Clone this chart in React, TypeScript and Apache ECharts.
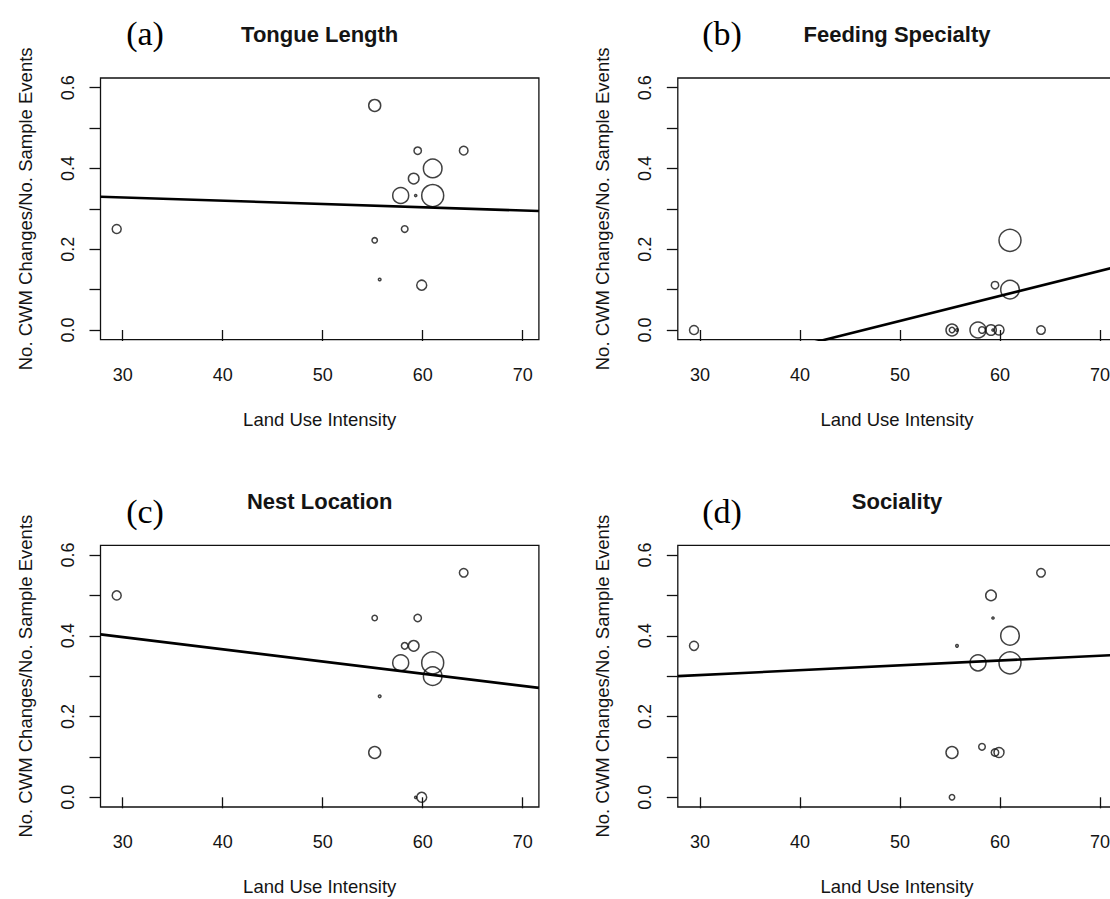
import React, { useEffect, useRef } from "react";
import * as echarts from "echarts";

// Land use intensity of each sampled site (shared by all four panels)
const siteX = [29.4, 55.2, 55.2, 55.7, 57.8, 58.2, 59.1, 59.3, 59.5, 59.9, 61.0, 61.0, 64.1];
// Relative weight of each site (bubble size)
const siteWeight = [4.5, 6, 2.7, 1.3, 8, 3.3, 5.3, 1.1, 3.7, 5, 9.3, 11, 4.3];

// No. CWM changes / No. sample events, per trait
const tongueLength = [0.25, 0.556, 0.222, 0.125, 0.333, 0.25, 0.375, 0.333, 0.444, 0.111, 0.4, 0.333, 0.444];
const feedingSpecialty = [0, 0, 0, 0, 0, 0, 0, 0, 0.111, 0, 0.1, 0.222, 0];
const nestLocation = [0.5, 0.111, 0.444, 0.25, 0.333, 0.375, 0.375, 0, 0.444, 0, 0.3, 0.333, 0.556];
const sociality = [0.375, 0.111, 0, 0.375, 0.333, 0.125, 0.5, 0.444, 0.111, 0.111, 0.4, 0.333, 0.556];

// Fitted regression lines: [intercept, slope]
const fitTongue = [0.3524, -0.000807];
const fitFeeding = [-0.2875, 0.0062];
const fitNest = [0.4873, -0.00302];
const fitSociality = [0.2667, 0.0012];

const panelTitles = ["Tongue Length", "Feeding Specialty", "Nest Location", "Sociality"];
const panelTags = ["(a)", "(b)", "(c)", "(d)"];

// Axis ticks and labels
const xTicks = [30, 40, 50, 60, 70];
const yTicks = [0, 0.1, 0.2, 0.3, 0.4, 0.5, 0.6];
const yLabels = [0, 0.2, 0.4, 0.6];
const xMin = 27.78;
const xMax = 71.62;
const yMin = -0.024;
const yMax = 0.624;

const xName = "Land Use Intensity";
const yName = "No. CWM Changes/No. Sample Events";

const SANS = '"Liberation Sans", Arial, Helvetica, sans-serif';
const SERIF = '"Liberation Serif", "Times New Roman", serif';
const INK = "#141414";

export default function App() {
  const ref = useRef<HTMLDivElement>(null);

  useEffect(() => {
    if (!ref.current) return;
    const chart = echarts.init(ref.current, null, { renderer: "svg" });

    const values = [tongueLength, feedingSpecialty, nestLocation, sociality];
    const fits = [fitTongue, fitFeeding, fitNest, fitSociality];

    const lefts = [100.5, 677.8, 100.5, 677.8];
    const tops = [78, 78, 545.3, 545.3];
    const W = 438.4;
    const H = 261.7;

    const grids = lefts.map((l, i) => ({
      left: l,
      top: tops[i],
      width: W,
      height: H,
      show: true,
      borderColor: "#111",
      borderWidth: 1.3,
      backgroundColor: "#fff",
      containLabel: false,
      outerBoundsMode: "none",
    }));

    const xAxes = lefts.map((_, i) => ({
      type: "value",
      gridIndex: i,
      min: xMin,
      max: xMax,
      axisLine: { show: false },
      splitLine: { show: false },
      axisTick: {
        show: true,
        length: 11,
        customValues: xTicks,
        lineStyle: { color: "#111", width: 1.3 },
      },
      axisLabel: {
        customValues: xTicks,
        margin: 26,
        fontSize: 18,
        fontFamily: SANS,
        color: INK,
      },
      name: xName,
      nameLocation: "middle",
      nameGap: 70,
      nameTextStyle: { fontSize: 18.5, fontFamily: SANS, color: INK },
    }));

    const yAxes = lefts.map((_, i) => ({
      type: "value",
      gridIndex: i,
      min: yMin,
      max: yMax,
      axisLine: { show: false },
      splitLine: { show: false },
      axisTick: {
        show: true,
        length: 11,
        customValues: yTicks,
        lineStyle: { color: "#111", width: 1.3 },
      },
      axisLabel: {
        customValues: yLabels,
        rotate: 90,
        margin: 24,
        fontSize: 18,
        fontFamily: SANS,
        color: INK,
        formatter: (v: number) => v.toFixed(1),
      },
      name: yName,
      nameLocation: "middle",
      nameGap: 66,
      nameTextStyle: { fontSize: 18.5, fontFamily: SANS, color: INK },
    }));

    const series: any[] = [];
    values.forEach((vals, i) => {
      series.push({
        type: "scatter",
        xAxisIndex: i,
        yAxisIndex: i,
        data: vals.map((y, k) => [siteX[k], y, siteWeight[k]]),
        symbol: "circle",
        symbolSize: (d: number[]) => d[2] * 2,
        itemStyle: { color: "rgba(255,255,255,0)", borderColor: "#111", borderWidth: 1.5 },
        silent: true,
        z: 3,
      });
      const [a, b] = fits[i];
      series.push({
        type: "line",
        xAxisIndex: i,
        yAxisIndex: i,
        data: [
          [xMin, a + b * xMin],
          [xMax, a + b * xMax],
        ],
        showSymbol: false,
        symbol: "none",
        clip: true,
        lineStyle: { color: "#000", width: 2.6 },
        silent: true,
        z: 4,
      });
    });

    const graphics: any[] = [];
    const tagX = [145, 722, 145, 722];
    const tagY = [33, 33, 511, 511];
    const titleY = [34, 34, 501, 501];
    panelTitles.forEach((t, i) => {
      graphics.push({
        type: "text",
        x: lefts[i] + W / 2,
        y: titleY[i],
        style: {
          text: t,
          font: `bold 22px ${SANS}`,
          fill: INK,
          textAlign: "center",
          textVerticalAlign: "middle",
        },
      });
      graphics.push({
        type: "text",
        x: tagX[i],
        y: tagY[i],
        style: {
          text: panelTags[i],
          font: `34px ${SERIF}`,
          fill: "#000",
          textAlign: "center",
          textVerticalAlign: "middle",
        },
      });
    });

    chart.setOption({
      animation: false,
      backgroundColor: "#fff",
      grid: grids,
      xAxis: xAxes,
      yAxis: yAxes,
      series,
      graphic: graphics,
    });

    return () => chart.dispose();
  }, []);

  return (
    <div
      ref={ref}
      style={{ position: "absolute", left: 0, top: 0, width: 1110, height: 899, background: "#fff" }}
    />
  );
}
